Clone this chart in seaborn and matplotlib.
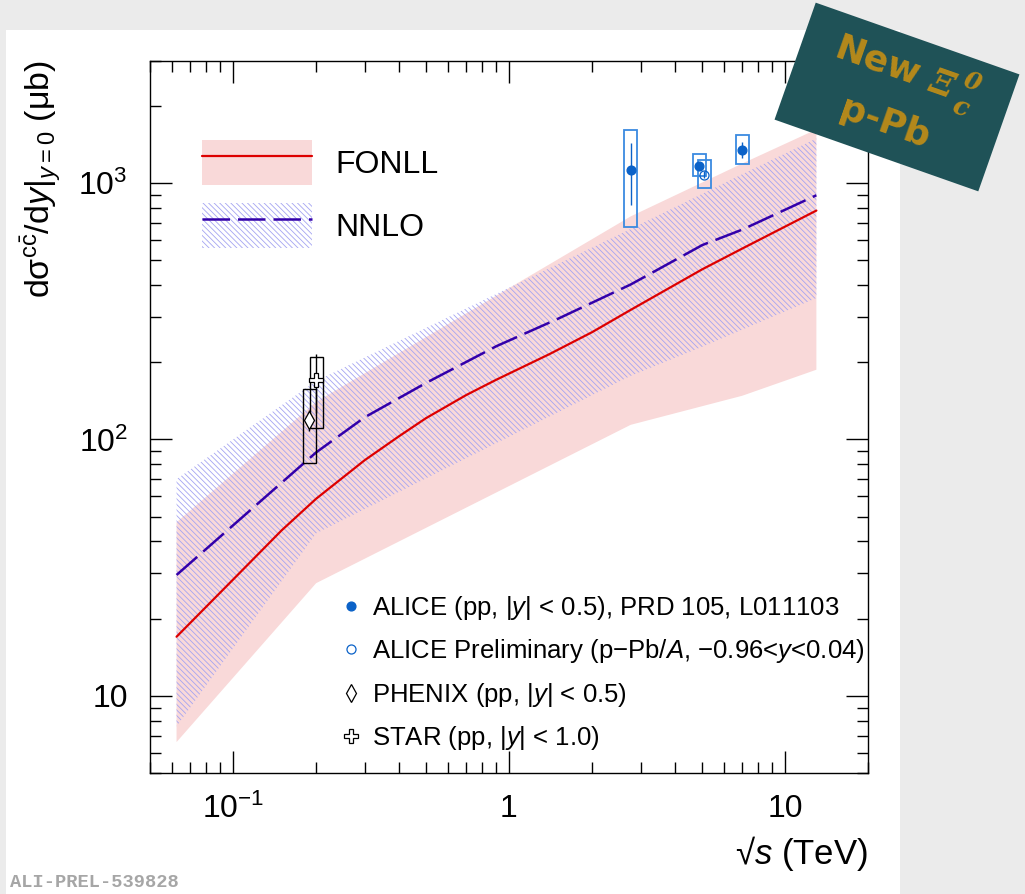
import numpy as np
import pandas as pd
import matplotlib
matplotlib.use("Agg")
import matplotlib.pyplot as plt
import seaborn as sns
from matplotlib.patches import Rectangle, Patch, Polygon
from matplotlib.lines import Line2D
from matplotlib.legend_handler import HandlerTuple
from matplotlib import ticker

# ---------------- theory: FONLL ----------------
fonll_sqrts = [0.0624, 0.1, 0.15, 0.2, 0.3, 0.4, 0.5, 0.7, 0.9, 1.4, 2.0, 2.76, 5.02, 7.0, 13.0]
fonll_central = [17.0, 28.4, 44.2, 58.7, 83.0, 103.0, 121.0, 149.0, 171.0, 215.0, 262.0, 320.0, 461.0, 555.0, 781.0]
fonll_band_sqrts = [0.0624, 0.2, 2.76, 7.0, 13.0]
fonll_low = [6.6, 27.5, 114.0, 148.0, 187.0]
fonll_high = [47.5, 140.0, 741.0, 1191.0, 1618.0]

# ---------------- theory: NNLO ----------------
nnlo_sqrts = [0.0624, 0.2, 0.3, 0.5, 0.9, 1.5, 2.76, 5.02, 7.0, 13.0]
nnlo_central = [29.6, 89.0, 122.0, 166.0, 231.0, 295.0, 402.0, 573.0, 658.0, 896.0]
nnlo_band_sqrts = [0.0624, 0.2, 2.76, 5.02, 7.0, 13.0]
nnlo_low = [7.6, 43.0, 177.0, 230.0, 268.0, 356.0]
nnlo_high = [70.0, 169.0, 662.0, 908.0, 1082.0, 1492.0]

# ---------------- measurements ----------------
alice_pp_sqrts = [2.76, 5.02, 7.0]
alice_pp_val = [1127.0, 1169.0, 1344.0]
alice_pp_stat = [304.0, 40.0, 96.0]
alice_pp_syst_lo = [454.0, 107.0, 158.0]
alice_pp_syst_hi = [487.0, 132.0, 193.0]

alice_ppb_sqrts = [5.02]
alice_ppb_val = [1078.0]
alice_ppb_stat = [35.0]
alice_ppb_syst_lo = [121.0]
alice_ppb_syst_hi = [155.0]

phenix_sqrts = [0.2]
phenix_val = [119.0]
phenix_stat = [11.0]
phenix_syst_lo = [38.0]
phenix_syst_hi = [38.0]

star_sqrts = [0.2]
star_val = [171.0]
star_stat = [44.0]
star_syst_lo = [60.0]
star_syst_hi = [38.0]

legend_theory = ["FONLL", "NNLO"]
legend_data = [
    "ALICE (pp, |$y$| < 0.5), PRD 105, L011103",
    "ALICE Preliminary (p\u2212Pb/$A$, \u22120.96<$y$<0.04)",
    "PHENIX (pp, |$y$| < 0.5)",
    "STAR (pp, |$y$| < 1.0)",
]

# ---------------- style ----------------
sns.set_theme(style="ticks")
plt.rcParams.update({
    "font.family": ["Liberation Sans", "DejaVu Sans"],
    "mathtext.fontset": "custom",
    "mathtext.rm": "Liberation Sans",
    "mathtext.it": "Liberation Sans:italic",
    "mathtext.bf": "Liberation Sans:bold",
    "mathtext.sf": "Liberation Sans",
    "hatch.linewidth": 0.6,
    "axes.linewidth": 1.0,
    "axes.edgecolor": "black",
    "text.color": "black",
    "axes.labelcolor": "black",
    "xtick.color": "black",
    "ytick.color": "black",
})

PINK = "#f9d9d9"
HATCH_COL = "#a4a4f2"
RED = "#dd0000"
INDIGO = "#3300aa"
ALICE_COL = "#0b62c8"
ALICE_BOX = "#3a8ae0"
NNLO_DASH = (0, (11, 3.2))
HATCH = "\\\\\\\\\\\\"

W, H = 1025, 894
fig = plt.figure(figsize=(W / 100, H / 100), dpi=100, facecolor="#ebebeb")
fig.add_artist(Rectangle((6 / W, 0), 894 / W, 1 - 30 / H, transform=fig.transFigure,
                         fc="white", ec="none", zorder=-10))

ax = fig.add_axes([150 / W, 1 - 773 / H, 718 / W, (773 - 60.7) / H])
ax.set_facecolor("white")
ax.set_xscale("log")
ax.set_yscale("log")

# theory bands
ax.fill_between(fonll_band_sqrts, fonll_low, fonll_high, facecolor=PINK, edgecolor="none",
                linewidth=0, zorder=1)
ax.fill_between(nnlo_band_sqrts, nnlo_low, nnlo_high, facecolor="none", edgecolor=HATCH_COL,
                hatch=HATCH, linewidth=0, zorder=2)

# theory central values
fonll_df = pd.DataFrame({"sqrts": fonll_sqrts, "xsec": fonll_central})
nnlo_df = pd.DataFrame({"sqrts": nnlo_sqrts, "xsec": nnlo_central})
sns.lineplot(data=fonll_df, x="sqrts", y="xsec", ax=ax, color=RED, linewidth=1.6,
             legend=False, zorder=3)
sns.lineplot(data=nnlo_df, x="sqrts", y="xsec", ax=ax, color=INDIGO, linewidth=1.8,
             linestyle=NNLO_DASH, legend=False, zorder=3)


def syst_boxes(xs, ys, lo, hi, color, lw, shift=1.0, half_dec=0.0235):
    for x, y, l, h in zip(xs, ys, lo, hi):
        xc = x * shift
        x0 = xc * 10 ** (-half_dec)
        x1 = xc * 10 ** half_dec
        ax.add_patch(Rectangle((x0, y - l), x1 - x0, l + h, fill=False, edgecolor=color,
                               linewidth=lw, zorder=4))


def points(xs, ys, err, shift=1.0, **kw):
    xs = [x * shift for x in xs]
    ax.errorbar(xs, ys, yerr=err, linestyle="none", capsize=0, zorder=5, **kw)


# measurements (shifted slightly in x where points share the same energy)
pp_shift = [1.0, 0.975, 1.0]
pp_x = [x * s for x, s in zip(alice_pp_sqrts, pp_shift)]
syst_boxes(pp_x, alice_pp_val, alice_pp_syst_lo, alice_pp_syst_hi, ALICE_BOX, 1.3)
points(pp_x, alice_pp_val, alice_pp_stat, marker="o", ms=6.3, color=ALICE_COL,
       ecolor=ALICE_COL, elinewidth=1.0)

syst_boxes(alice_ppb_sqrts, alice_ppb_val, alice_ppb_syst_lo, alice_ppb_syst_hi,
           ALICE_BOX, 1.3, shift=1.015)
points(alice_ppb_sqrts, alice_ppb_val, alice_ppb_stat, shift=1.015, marker="o", ms=6.5,
       mfc="none", mec=ALICE_COL, mew=0.9, ecolor=ALICE_COL, elinewidth=1.0)

syst_boxes(phenix_sqrts, phenix_val, phenix_syst_lo, phenix_syst_hi, "black", 1.0,
           shift=0.945)
points(phenix_sqrts, phenix_val, phenix_stat, shift=0.945, marker="d", ms=9,
       mfc="white", mec="black", mew=0.9, ecolor="black", elinewidth=1.0)

syst_boxes(star_sqrts, star_val, star_syst_lo, star_syst_hi, "black", 1.0)
points(star_sqrts, star_val, star_stat, marker="P", ms=9.5, mfc="white", mec="black",
       mew=0.9, ecolor="black", elinewidth=1.0)

# axes
ax.set_xlim(0.05, 20)
ax.set_ylim(5, 3000)
ax.xaxis.set_major_locator(ticker.FixedLocator([0.1, 1, 10]))
ax.xaxis.set_major_formatter(ticker.FixedFormatter([r"$10^{-1}$", "1", "10"]))
ax.yaxis.set_major_locator(ticker.FixedLocator([10, 100, 1000]))
ax.yaxis.set_major_formatter(ticker.FixedFormatter(["10", r"$10^{2}$", r"$10^{3}$"]))
for axis in (ax.xaxis, ax.yaxis):
    axis.set_minor_locator(ticker.LogLocator(base=10, subs=np.arange(2, 10), numticks=20))
    axis.set_minor_formatter(ticker.NullFormatter())
ax.tick_params(which="both", direction="in", top=True, right=True, width=1.0, color="black")
ax.tick_params(which="major", length=15.8)
ax.tick_params(which="minor", length=7.9)
ax.tick_params(axis="x", which="major", labelsize=23, pad=15)
ax.tick_params(axis="y", which="major", labelsize=23, pad=16)
for s in ax.spines.values():
    s.set_color("black")
    s.set_linewidth(1.0)

ax.set_xlabel("\u221a$s$ (TeV)", fontsize=25, loc="right")
ax.xaxis.set_label_coords(1.0, -0.086)
ax.set_ylabel(r"d$\mathrm{\sigma}^{\mathrm{c\bar{c}}}$/d$y$$|_{y=0}$ ($\mathrm{\mu}$b)",
              fontsize=24.5, loc="top")
ax.yaxis.set_label_coords(-0.121, 1.0)

# legends
th_handles = [
    (Patch(facecolor=PINK, edgecolor="none"), Line2D([], [], color=RED, lw=1.6)),
    (Patch(facecolor="none", edgecolor=HATCH_COL, hatch=HATCH, lw=0),
     Line2D([], [], color=INDIGO, lw=1.8, linestyle=NNLO_DASH)),
]
leg1 = ax.legend(th_handles, legend_theory, handler_map={tuple: HandlerTuple(ndivide=1, pad=0)},
                 loc="upper left", bbox_to_anchor=(202 / W, 1 - 140 / H),
                 bbox_transform=fig.transFigure, frameon=False, fontsize=23,
                 handlelength=3.45, handleheight=1.78, labelspacing=0.57, handletextpad=0.72,
                 borderpad=0, borderaxespad=0)
ax.add_artist(leg1)

data_handles = [
    Line2D([], [], linestyle="none", marker="o", ms=6.3, color=ALICE_COL),
    Line2D([], [], linestyle="none", marker="o", ms=6.5, mfc="none", mec=ALICE_COL, mew=0.9),
    Line2D([], [], linestyle="none", marker="d", ms=9, mfc="white", mec="black", mew=0.9),
    Line2D([], [], linestyle="none", marker="P", ms=9.5, mfc="white", mec="black", mew=0.9),
]
ax.legend(data_handles, legend_data, loc="upper left",
          bbox_to_anchor=(341 / W, 1 - 594 / H), bbox_transform=fig.transFigure,
          frameon=False, fontsize=18.5, handlelength=0.75, labelspacing=0.6,
          handletextpad=0.45, borderpad=0, borderaxespad=0)

# label
fig.text(10 / W, 1 - 887 / H, "ALI-PREL-539828", family="Liberation Mono", weight="bold",
         color="#a6a6a6", fontsize=13.5, va="baseline", ha="left")

# banner
def img_to_fig(px, py):
    return (px / W, 1 - py / H)


ang = np.deg2rad(19.4)
u = np.array([np.cos(ang), np.sin(ang)])
v = np.array([-np.sin(ang), np.cos(ang)])
c = np.array([897.0, 97.0])
bw, bh = 216.0, 124.0
corners = [c + sx * bw / 2 * u + sy * bh / 2 * v for sx, sy in [(-1, -1), (1, -1), (1, 1), (-1, 1)]]
fig.add_artist(Polygon([img_to_fig(*p) for p in corners], closed=True, transform=fig.transFigure,
                       facecolor="#1f5257", edgecolor="none", zorder=20))
GOLD = "#b5891b"
banner_kw = dict(rotation=-19.4, rotation_mode="anchor", ha="center", va="center",
                 color=GOLD, zorder=21)
fig.text(*img_to_fig(877.5, 61.5), "New", fontsize=26, weight="bold", family="DejaVu Sans",
         **banner_kw)
fig.text(*img_to_fig(941, 85), "\u039e", fontsize=25, weight="bold", style="italic",
         family="DejaVu Serif", **banner_kw)
fig.text(*img_to_fig(972, 82), "0", fontsize=18, weight="bold", style="italic",
         family="DejaVu Serif", **banner_kw)
fig.text(*img_to_fig(960, 108), "c", fontsize=19, weight="bold", style="italic",
         family="DejaVu Serif", **banner_kw)
fig.text(*img_to_fig(885, 123.5), "p-Pb", fontsize=26, weight="bold", family="DejaVu Sans",
         **banner_kw)

fig.savefig("out.png", dpi=100, facecolor=fig.get_facecolor())
